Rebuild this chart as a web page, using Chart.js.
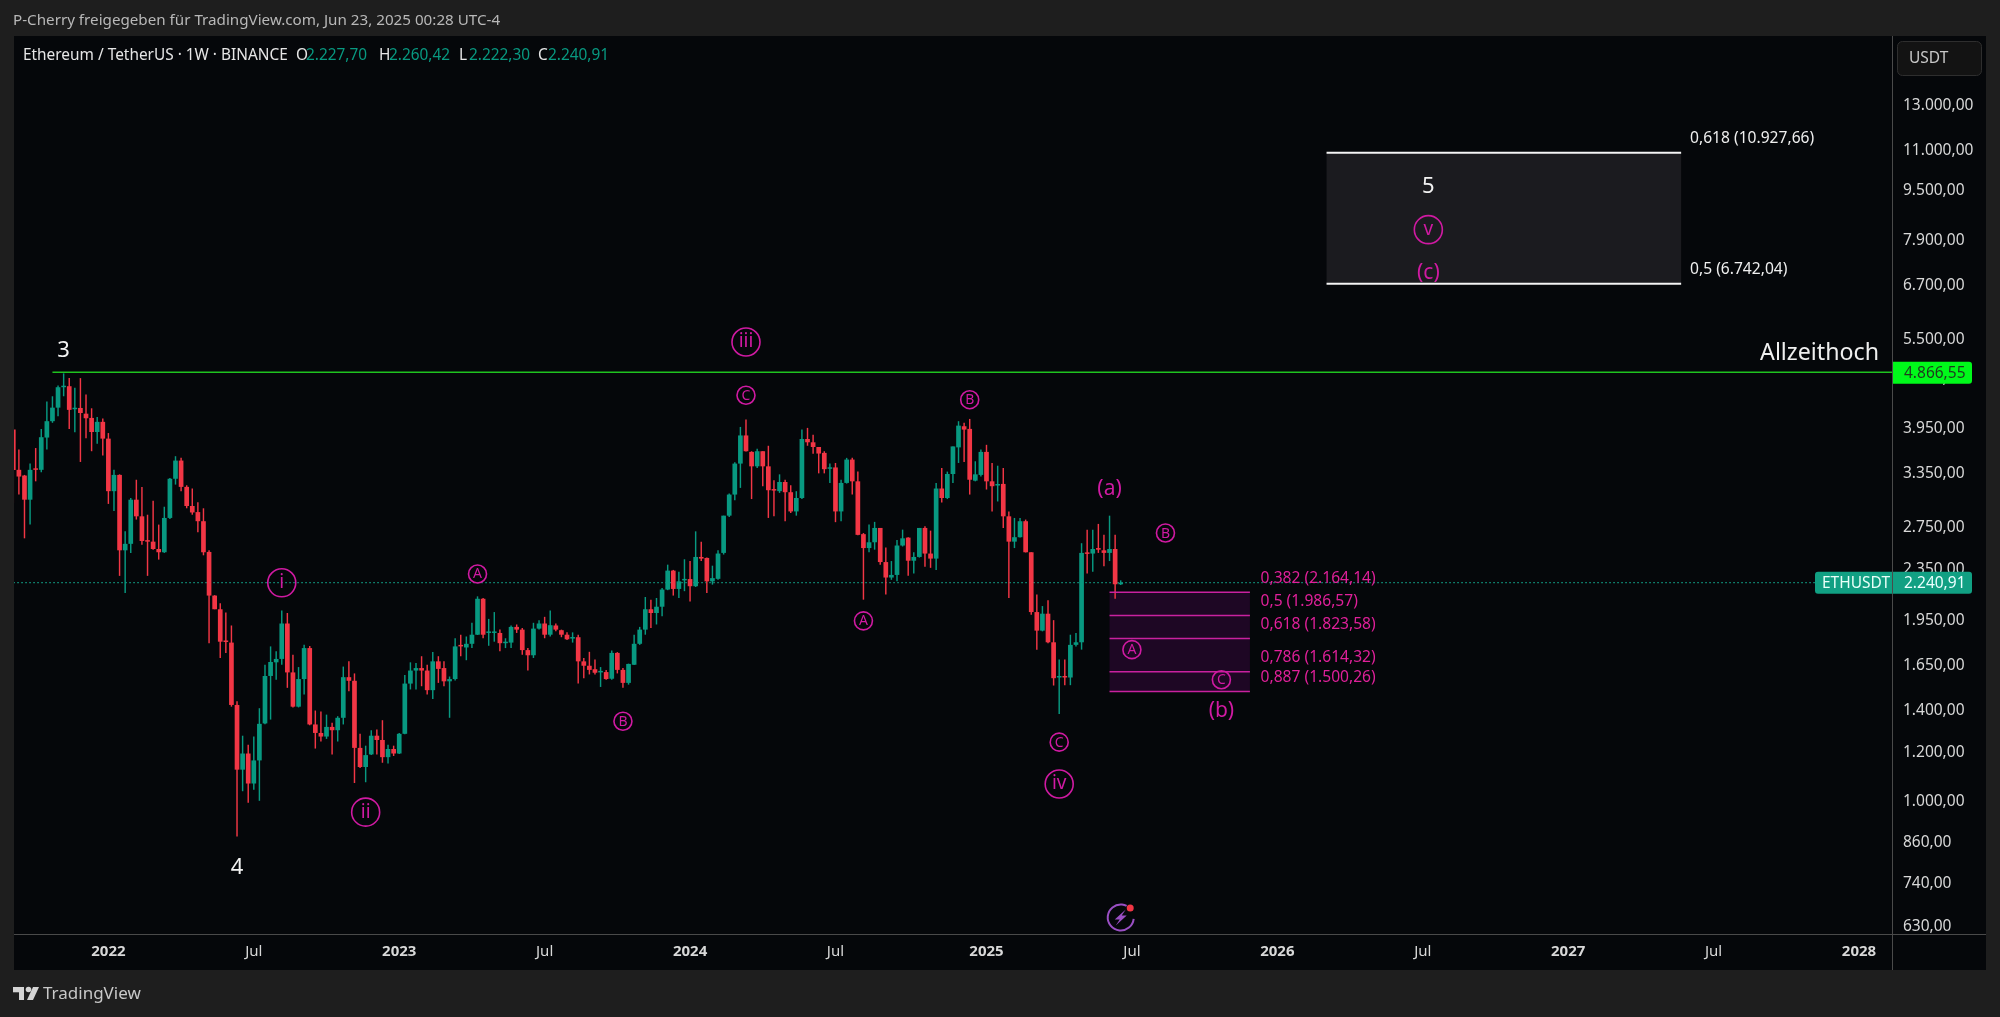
<!DOCTYPE html>
<html><head><meta charset="utf-8">
<style>html,body{margin:0;padding:0;background:#1e1e1e;overflow:hidden}canvas{display:block}</style>
<script src="https://cdn.jsdelivr.net/npm/chart.js@4"></script></head>
<body><canvas id="c" width="2000" height="1017" style="width:2000px;height:1017px"></canvas>
<script>
const headerText="P-Cherry freigegeben für TradingView.com, Jun 23, 2025 00:28 UTC-4";
const symbolText="Ethereum / TetherUS · 1W · BINANCE";
const open=[3940,3397,3326,3043,3414,3397,3826,4064,4272,4606,4623,4247,4267,4178,4113,3905,4054,3811,3140,3334,2525,2586,3043,2862,2619,2607,2537,2507,2845,3287,3515,3190,2973,2907,2811,2510,2137,2032,1808,1797,1428,1125,1194,1069,1164,1334,1589,1671,1692,1928,1610,1419,1571,1761,1329,1288,1271,1317,1301,1362,1582,1561,1219,1136,1190,1275,1255,1178,1214,1194,1284,1545,1621,1636,1621,1508,1677,1636,1558,1571,1778,1765,1789,1850,2112,1862,1862,1862,1793,1797,1904,1885,1748,1715,1892,1928,1850,1914,1881,1850,1824,1833,1677,1650,1629,1610,1612,1573,1730,1625,1549,1656,1789,1885,2032,2004,2051,2185,2343,2190,2260,2271,2212,2464,2455,2252,2273,2501,2869,3101,3476,3856,3629,3441,3638,3441,3159,3140,3248,3128,2914,3062,3806,3760,3695,3616,3410,3427,2914,3237,3528,3256,2680,2546,2601,2742,2418,2284,2306,2570,2646,2430,2464,2742,2495,2449,3171,3062,3345,3690,3989,3950,3264,3334,3629,3256,3206,3225,2862,2607,2650,2811,2507,2011,1878,1999,1799,1580,1589,1580,1782,1799,2501,2495,2546,2525,2501,2537,2227.70];
const high=[3940,3660,3334,3476,3681,3950,4371,4455,4634,4847,4763,4595,4763,4482,4262,4128,4103,3890,3397,3341,2708,3062,3275,3190,2879,3031,2776,2965,3295,3572,3550,3209,3171,3015,2948,2525,2140,2078,2008,1914,1447,1275,1233,1271,1411,1656,1772,1741,2023,2004,1719,1642,1782,1775,1399,1394,1378,1337,1370,1645,1677,1604,1284,1229,1301,1304,1350,1233,1229,1288,1595,1671,1667,1709,1656,1735,1709,1677,1586,1826,1850,1838,1933,2131,2118,1961,2011,1885,1826,1914,1921,1897,1761,1933,1952,1976,2023,1928,1885,1866,1866,1850,1698,1737,1688,1642,1625,1746,1735,1636,1663,1850,1904,2126,2105,2118,2198,2395,2349,2334,2443,2427,2708,2607,2458,2386,2525,2869,3112,3493,3979,4088,3638,3673,3638,3712,3268,3341,3275,3209,3140,3940,3965,3866,3695,3638,3476,3484,3275,3550,3550,3375,2691,2776,2804,2742,2552,2427,2622,2725,2650,2507,2742,2759,2715,3237,3419,3375,3703,4064,4039,4098,3506,3660,3725,3484,3449,3419,2914,2845,2845,2828,2507,2145,2056,2100,1952,1688,1688,1850,1862,2592,2725,2725,2783,2673,2869,2673,2260.42];
const low=[3005,3101,2639,2776,3256,3366,3660,4040,4138,4455,3950,3900,3497,3816,3638,3739,3581,2996,2920,2298,2158,2501,2828,2577,2298,2531,2440,2501,2835,3217,3140,2948,2879,2698,2479,1793,2032,1698,1730,1419,879,1039,996,1045,1003,1330,1353,1567,1656,1521,1415,1415,1484,1325,1216,1248,1260,1190,1248,1329,1502,1071,1132,1074,1187,1190,1154,1151,1183,1192,1282,1512,1512,1530,1484,1460,1549,1530,1362,1563,1709,1684,1761,1848,1826,1776,1803,1740,1761,1761,1862,1719,1621,1698,1885,1826,1838,1873,1833,1814,1797,1545,1576,1598,1598,1526,1567,1567,1604,1521,1539,1654,1782,1850,1897,1921,1980,2180,2137,2118,2172,2091,2206,2427,2158,2225,2265,2486,2855,3036,3178,3635,3050,3419,3198,2845,2862,3120,2811,2896,2869,3050,3712,3603,3353,3353,3237,2801,2811,3229,3101,2670,2105,2507,2531,2395,2145,2265,2252,2561,2300,2319,2458,2376,2367,2349,3011,3050,3237,3484,3497,3101,3256,3314,3159,2914,3023,2742,2118,2546,2646,2505,1992,1751,1873,1793,1534,1381,1536,1536,1772,1751,2319,2334,2501,2380,2427,2112,2222.30];
const close=[3395,3314,3043,3397,3397,3831,4064,4272,4606,4623,4237,4267,4188,4108,3905,4054,3811,3140,3334,2525,2586,3043,2862,2613,2607,2537,2507,2845,3287,3515,3190,2973,2903,2811,2507,2137,2032,1803,1801,1428,1125,1194,1069,1164,1332,1589,1673,1692,1928,1610,1419,1571,1761,1329,1288,1271,1317,1301,1362,1582,1561,1219,1136,1187,1275,1255,1178,1214,1194,1284,1545,1621,1636,1621,1508,1677,1631,1558,1571,1772,1772,1789,1850,2112,1850,1869,1869,1793,1799,1904,1885,1748,1715,1892,1928,1850,1916,1885,1850,1819,1831,1677,1650,1625,1608,1619,1571,1730,1625,1549,1661,1789,1885,2032,2004,2051,2185,2343,2190,2252,2271,2212,2464,2449,2252,2279,2495,2869,3101,3476,3856,3638,3441,3638,3441,3151,3147,3248,3128,2914,3062,3806,3760,3695,3607,3405,3427,2914,3237,3528,3256,2673,2546,2601,2742,2418,2284,2306,2570,2639,2430,2464,2742,2495,2449,3171,3062,3345,3703,3998,3940,3275,3341,3629,3256,3198,3221,2862,2607,2650,2811,2507,2011,1878,1999,1799,1576,1589,1580,1782,1799,2501,2492,2537,2531,2501,2537,2228,2240.91];
const yTicks=[13000,11000,9500,7900,6700,5500,4750,3950,3350,2750,2350,1950,1650,1400,1200,1000,860,740,630];
const xTickWeeks=[18,44,70,96,122,148,175,201,227,253,279,305,331];
const xTickLabels=["2022","Jul","2023","Jul","2024","Jul","2025","Jul","2026","Jul","2027","Jul","2028"];
const athPrice=4866.55, lastPrice=2240.91;
const fibLower=[0.382,0.5,0.618,0.786,0.887], fibLowerPrice=[2164.14,1986.57,1823.58,1614.32,1500.26];
const fibUpper=[0.618,0.5], fibUpperPrice=[10927.66,6742.04];
const waveText=["3","4","i","ii","iii","C","A","B","B","A","(a)","B","A","C","iv","C","(b)","5","v","(c)"];
const waveWeek=[10,41,49,64,132,132,84,110,172,153,197,207,201,188,188,217,217,254,254,254];
const wavePrice=[5292,788,2240,962,5441,4472,2314,1345,4399,1947,3182,2691,1751,1245,1067,1567,1403,9669,8232,7053];
const waveStyle=["w","w","O","O","O","o","o","o","o","o","p","o","o","o","O","o","p","w","O","p"];

const FONT='"Noto Sans"';
const GREEN='#089981',RED='#F23645',MAG='#d01aa2',PINK='#e0209a';
const weeks=open.map((_,i)=>i+1);
const num=v=>v.toLocaleString('de-DE',{minimumFractionDigits:2,maximumFractionDigits:2});
const fibText=(l,p)=>String(l).replace('.',',')+' ('+num(p)+')';
const colors=weeks.map((_,i)=>close[i]>=open[i]?GREEN:RED);

const deco={id:'deco',
 beforeDraw(ch){const g=ch.ctx,a=ch.chartArea;g.save();
  g.fillStyle='#1e1e1e';g.fillRect(0,0,2000,1017);
  g.fillStyle='#05070a';g.fillRect(a.left,a.top,1986-a.left,970-a.top);
  g.restore();},
 beforeDatasetsDraw(ch){const g=ch.ctx,x=ch.scales.x,y=ch.scales.y;g.save();
  g.fillStyle='#1b1b1f';
  g.fillRect(x.getPixelForValue(235.8),y.getPixelForValue(fibUpperPrice[0]),x.getPixelForValue(299.2)-x.getPixelForValue(235.8),y.getPixelForValue(fibUpperPrice[1])-y.getPixelForValue(fibUpperPrice[0]));
  g.fillStyle='#1e0724';
  g.fillRect(x.getPixelForValue(197),y.getPixelForValue(fibLowerPrice[0]),x.getPixelForValue(222.1)-x.getPixelForValue(197),y.getPixelForValue(fibLowerPrice[4])-y.getPixelForValue(fibLowerPrice[0]));
  g.restore();},
 afterDraw(ch){const g=ch.ctx,x=ch.scales.x,y=ch.scales.y,a=ch.chartArea;g.save();
  g.textBaseline='middle';g.textAlign='left';
  const T=(s,px,py,f,c,al)=>{g.font=f;g.fillStyle=c;g.textAlign=al||'left';g.fillText(s,px,py+1);};
  g.strokeStyle='#4a4a4a';g.lineWidth=1;g.beginPath();g.moveTo(a.left,934.5);g.lineTo(1986,934.5);g.moveTo(1892.5,36);g.lineTo(1892.5,970);g.stroke();
  waveText.forEach((s,i)=>{const px=x.getPixelForValue(waveWeek[i]),py=y.getPixelForValue(wavePrice[i]),st=waveStyle[i];
   if(st==='w')T(s,px,py,'22px '+FONT,'#f2f2f2','center');
   else if(st==='p')T(s,px,py,'21px '+FONT,MAG,'center');
   else{const r=st==='O'?14:9;g.strokeStyle=MAG;g.lineWidth=1.6;g.beginPath();g.arc(px,py,r,0,Math.PI*2);g.stroke();
    T(s,px,py-(st==='O'?1:0.5),(st==='O'?19:14)+'px '+FONT,MAG,'center');}
  });
  fibLower.forEach((l,i)=>T(fibText(l,fibLowerPrice[i]),x.getPixelForValue(224),y.getPixelForValue(fibLowerPrice[i])-15,'15.6px '+FONT,PINK));
  fibUpper.forEach((l,i)=>T(fibText(l,fibUpperPrice[i]),x.getPixelForValue(300.8),y.getPixelForValue(fibUpperPrice[i])-15.5,'15.6px '+FONT,'#efefef'));
  T('Allzeithoch',1879,y.getPixelForValue(athPrice)-19.5,'23.2px '+FONT,'#efefef','right');
  const ix=x.getPixelForValue(199),iy=917.5;g.strokeStyle='#9a4fc4';g.lineWidth=2;g.beginPath();g.arc(ix,iy,13,0.1,Math.PI*1.65);g.stroke();
  g.fillStyle='#9a4fc4';g.beginPath();g.moveTo(ix+5,iy-8);g.lineTo(ix-6,iy+2);g.lineTo(ix-1,iy+2);g.lineTo(ix-5,iy+8);g.lineTo(ix+6,iy-2);g.lineTo(ix+1,iy-2);g.closePath();g.fill();
  g.fillStyle='#f23645';g.beginPath();g.arc(ix+9.5,iy-9.5,3.5,0,Math.PI*2);g.fill();
  const rr=(px,py,w,h,c,r)=>{g.fillStyle=c;g.beginPath();g.roundRect(px,py,w,h,r);g.fill();};
  const ya=y.getPixelForValue(athPrice),yl=y.getPixelForValue(lastPrice);
  rr(1893,ya-10.5,79,22,'#00f91a',[0,3,3,0]);T(num(athPrice),1904,ya,'15.5px '+FONT,'#1f3a1f');
  rr(1815,yl-11,157,22,'#11a083',3);T('ETHUSDT',1822,yl,'15.5px '+FONT,'#e8fff8');T(num(lastPrice),1904,yl,'15.5px '+FONT,'#eaffff');
  g.strokeStyle='#4a4a4a';g.lineWidth=1;g.beginPath();g.moveTo(1892.5,yl-11);g.lineTo(1892.5,yl+11);g.stroke();
  g.fillStyle='#131313';g.strokeStyle='#2e2e2e';g.beginPath();g.roundRect(1897.5,41.5,84,34,5);g.fill();g.stroke();
  T('USDT',1909,58,'15.5px '+FONT,'#c8c8c8');
  T(headerText,13,19.5,'15.2px '+FONT,'#b8b8b8');
  T(symbolText,23,55,'15.4px '+FONT,'#e6e6e6');
  [['O',296,open[198]],['H',379,high[198]],['L',459,low[198]],['C',538,close[198]]].forEach(r=>{
    T(r[0],r[1],55,'15.4px '+FONT,'#e6e6e6');T(num(r[2]),r[1]+10,55,'15.4px '+FONT,GREEN);});
  g.fillStyle='#d4d4d4';g.fillRect(13,987,11,5.3);g.fillRect(19,987,5,13);g.beginPath();g.arc(28.5,989.5,2.8,0,Math.PI*2);g.fill();
  g.beginPath();g.moveTo(33,987);g.lineTo(39,987);g.lineTo(33,1000);g.lineTo(27,1000);g.closePath();g.fill();
  T('TradingView',43,993,'17px '+FONT,'#c8c8c8');
  g.restore();}
};

new Chart(document.getElementById('c'),{
 data:{datasets:[
  {type:'bar',order:5,grouped:false,data:weeks.map((w,i)=>({x:w,y:[low[i],high[i]]})),backgroundColor:colors,barPercentage:0.26,categoryPercentage:1,borderWidth:0,minBarLength:1},
  {type:'bar',order:4,grouped:false,data:weeks.map((w,i)=>({x:w,y:[open[i],close[i]]})),backgroundColor:colors,barPercentage:0.84,categoryPercentage:1,borderWidth:0,minBarLength:1.5},
  {type:'line',order:3,data:[{x:8,y:athPrice},{x:337,y:athPrice}],borderColor:'#1fc21f',borderWidth:1.5,pointRadius:0},
  {type:'line',order:6,data:[{x:1,y:lastPrice},{x:337,y:lastPrice}],borderColor:'#129c84',borderWidth:1.2,borderDash:[1.5,2.5],pointRadius:0},
  ...fibLowerPrice.map(p=>({type:'line',order:2,data:[{x:197,y:p},{x:222.1,y:p}],borderColor:'#c9219f',borderWidth:1.5,pointRadius:0})),
  ...fibUpperPrice.map(p=>({type:'line',order:2,data:[{x:235.8,y:p},{x:299.2,y:p}],borderColor:'#f5f5f5',borderWidth:2,pointRadius:0}))
 ]},
 options:{responsive:false,animation:false,devicePixelRatio:1,
  layout:{padding:{left:14,top:36,right:14,bottom:47}},
  plugins:{legend:{display:false},tooltip:{enabled:false}},
  scales:{
   x:{type:'linear',position:'bottom',offset:false,min:1.125,max:336.9,bounds:'data',
    grid:{display:false,drawTicks:false},border:{display:false},
    afterBuildTicks(s){s.ticks=xTickWeeks.map(v=>({value:v}));},
    afterFit(s){s.height=36;},
    ticks:{autoSkip:false,maxRotation:0,minRotation:0,padding:9,
     color:'#d8d8d8',
     font:c=>({family:FONT,size:15,weight:xTickLabels[xTickWeeks.indexOf(c.tick&&c.tick.value)]==='Jul'?'400':'700'}),
     callback:v=>xTickLabels[xTickWeeks.indexOf(v)]||''}},
   y:{type:'logarithmic',position:'right',min:613.9,max:16808,bounds:'data',
    grid:{display:false,drawTicks:false},border:{display:false},
    afterBuildTicks(s){s.ticks=yTicks.map(v=>({value:v}));},
    afterFit(s){s.width=94;},
    ticks:{autoSkip:false,padding:11,color:'#d8d8d8',font:{family:FONT,size:15.5},callback:v=>num(v)}}
  }},
 plugins:[deco]
});
</script></body></html>
